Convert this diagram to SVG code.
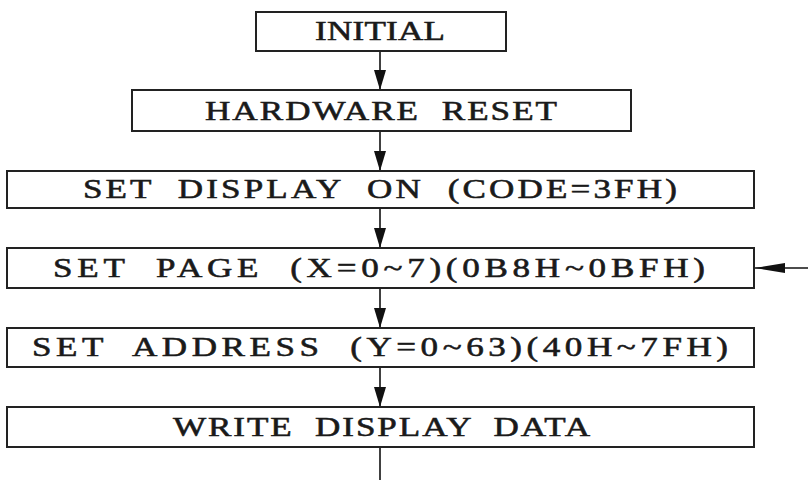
<svg xmlns="http://www.w3.org/2000/svg" width="808" height="480" viewBox="0 0 808 480">
<defs>
<style>
.box{fill:#fff;stroke:#222;stroke-width:2}
.lbl{font-family:"Liberation Serif","DejaVu Serif",serif;font-size:27px;fill:#1a1a1a;stroke:#1a1a1a;stroke-width:0.55;white-space:pre}
.conn{stroke:#111;stroke-width:1.6;fill:none}
</style>
<marker id="ah" markerUnits="userSpaceOnUse" markerWidth="20" markerHeight="12" refX="20" refY="6" orient="auto" viewBox="0 0 20 12">
<path d="M0,0 L20,6 L0,12 z" fill="#111"/>
</marker>
<marker id="ah2" markerUnits="userSpaceOnUse" markerWidth="30" markerHeight="11" refX="30" refY="5.5" orient="auto" viewBox="0 0 30 11">
<path d="M0,0.5 L30,5.5 L0,10.5 z" fill="#111"/>
</marker>
</defs>
<rect width="808" height="480" fill="#fff"/>
<g id="connectors">
<line class="conn" x1="380" y1="51" x2="380" y2="90" marker-end="url(#ah)"/>
<line class="conn" x1="380" y1="131" x2="380" y2="171" marker-end="url(#ah)"/>
<line class="conn" x1="380" y1="208" x2="380" y2="248" marker-end="url(#ah)"/>
<line class="conn" x1="380" y1="288" x2="380" y2="328" marker-end="url(#ah)"/>
<line class="conn" x1="380" y1="367" x2="380" y2="407" marker-end="url(#ah)"/>
<line class="conn" x1="380" y1="447" x2="380" y2="480"/>
<line class="conn" x1="808" y1="268" x2="755" y2="268" marker-end="url(#ah2)"/>
</g>
<g id="initial">
<rect class="box" x="256" y="12" width="250" height="39"/>
<text class="lbl" xml:space="preserve" transform="scale(1.3,1)" x="242.3" y="40" textLength="100" lengthAdjust="spacing">INITIAL</text>
</g>
<g id="hardware-reset">
<rect class="box" x="132" y="90" width="499" height="41"/>
<text class="lbl" xml:space="preserve" transform="scale(1.3,1)" x="157.7" y="120" textLength="270.8" lengthAdjust="spacing">HARDWARE  RESET</text>
</g>
<g id="set-display-on">
<rect class="box" x="7" y="171" width="747" height="37"/>
<text class="lbl" xml:space="preserve" transform="scale(1.3,1)" x="63.8" y="198" textLength="456.9" lengthAdjust="spacing">SET  DISPLAY  ON  (CODE=3FH)</text>
</g>
<g id="set-page">
<rect class="box" x="7" y="248" width="747" height="40"/>
<text class="lbl" xml:space="preserve" transform="scale(1.3,1)" x="40.8" y="277" textLength="501.5" lengthAdjust="spacing">SET  PAGE  (X=0~7)(0B8H~0BFH)</text>
</g>
<g id="set-address">
<rect class="box" x="7" y="328" width="747" height="39"/>
<text class="lbl" xml:space="preserve" transform="scale(1.3,1)" x="24.6" y="356" textLength="535.4" lengthAdjust="spacing">SET  ADDRESS  (Y=0~63)(40H~7FH)</text>
</g>
<g id="write-display-data">
<rect class="box" x="7" y="407" width="747" height="40"/>
<text class="lbl" xml:space="preserve" transform="scale(1.3,1)" x="133.1" y="436" textLength="320.8" lengthAdjust="spacing">WRITE  DISPLAY  DATA</text>
</g>
</svg>
